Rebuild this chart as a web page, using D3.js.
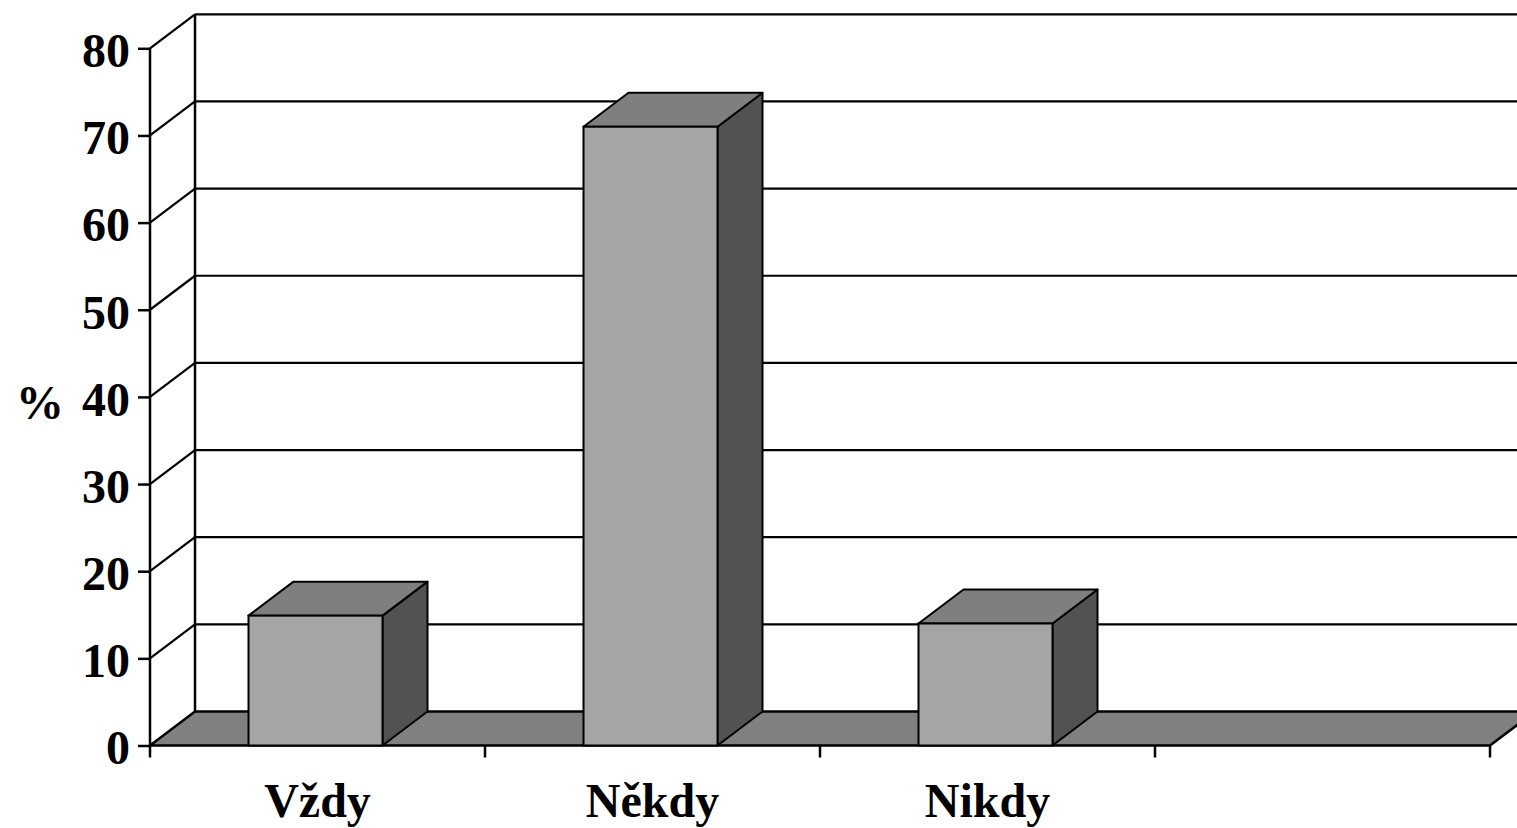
<!DOCTYPE html>
<html>
<head>
<meta charset="utf-8">
<script src="https://cdn.jsdelivr.net/npm/d3@7"></script>
<style>
  html, body { margin: 0; padding: 0; background: #fff; }
  svg { display: block; }
  text { font-family: "Liberation Serif", "Times New Roman", serif; font-weight: bold; fill: #000; }
</style>
</head>
<body>
<svg id="chart" width="1517" height="828"></svg>
<script>
// Share of answers (%)
const categories = ["Vždy", "Někdy", "Nikdy", ""];
const values = [14.9, 71.0, 14.0];
const yTicks = [0, 10, 20, 30, 40, 50, 60, 70, 80];
const yLabel = "%";

const svg = d3.select("#chart");

// 3D projection: depth offset of the back wall relative to the front plane
const DX = 45, DY = -34;

const x = d3.scaleBand().domain(categories).range([150, 1490]).paddingInner(0).paddingOuter(0);
const y = d3.scaleLinear().domain([0, 80]).range([745.5, 48.3]);

const barW = x.bandwidth() * 0.4;
const barOffset = (x.bandwidth() - barW) / 2 - 2;

const frontLeft = x.range()[0], frontRight = x.range()[1];
const backLeft = frontLeft + DX, backRight = frontRight + DX;

const pts = arr => arr.map(p => p.join(",")).join(" ");

// Back wall gridlines
svg.append("g").selectAll("line").data(yTicks.filter(t => t > 0)).join("line")
  .attr("x1", backLeft).attr("x2", backRight)
  .attr("y1", d => y(d) + DY).attr("y2", d => y(d) + DY)
  .attr("stroke", "#000").attr("stroke-width", 2.2);

// Back wall left edge
svg.append("line")
  .attr("x1", backLeft).attr("x2", backLeft)
  .attr("y1", y(80) + DY).attr("y2", y(0) + DY)
  .attr("stroke", "#000").attr("stroke-width", 2.5);

// Side wall gridlines (diagonals from the value axis to the back wall)
svg.append("g").selectAll("line").data(yTicks.filter(t => t > 0)).join("line")
  .attr("x1", frontLeft).attr("x2", backLeft)
  .attr("y1", d => y(d)).attr("y2", d => y(d) + DY)
  .attr("stroke", "#000").attr("stroke-width", 2.2);

// Floor
svg.append("polygon")
  .attr("points", pts([[frontLeft, y(0)], [frontRight, y(0)], [backRight, y(0) + DY], [backLeft, y(0) + DY]]))
  .attr("fill", "#808080").attr("stroke", "#000").attr("stroke-width", 2.5)
  .attr("stroke-linejoin", "miter");

// Bars: front, top and side faces
const bars = svg.append("g").selectAll("g").data(values).join("g");
bars.each(function (v, i) {
  const g = d3.select(this);
  const x0 = x(categories[i]) + barOffset, x1 = x0 + barW;
  const yb = y(0), yt = y(v);
  g.append("polygon")
    .attr("points", pts([[x1, yb], [x1 + DX, yb + DY], [x1 + DX, yt + DY], [x1, yt]]))
    .attr("fill", "#525252").attr("stroke", "#000").attr("stroke-width", 2).attr("stroke-linejoin", "round");
  g.append("polygon")
    .attr("points", pts([[x0, yt], [x1, yt], [x1 + DX, yt + DY], [x0 + DX, yt + DY]]))
    .attr("fill", "#7f7f7f").attr("stroke", "#000").attr("stroke-width", 2).attr("stroke-linejoin", "round");
  g.append("rect")
    .attr("x", x0).attr("y", yt).attr("width", barW).attr("height", yb - yt)
    .attr("fill", "#a5a5a5").attr("stroke", "#000").attr("stroke-width", 2);
});

// Value axis
const yAxis = svg.append("g").attr("transform", `translate(${frontLeft},0)`)
  .call(d3.axisLeft(y).tickValues(yTicks).tickSize(12).tickPadding(8).tickFormat(d3.format("d")));
yAxis.select(".domain").attr("stroke", "#000").attr("stroke-width", 2.5).attr("d", `M0,${y(80)}V${y(0)}`);
yAxis.selectAll(".tick line").attr("stroke", "#000").attr("stroke-width", 2.5);
yAxis.selectAll(".tick text")
  .attr("font-size", 48).attr("font-family", "Liberation Serif, serif").attr("font-weight", "bold")
  .attr("dy", "0.38em");

// Category axis
const xAxis = svg.append("g").attr("transform", `translate(0,${y(0)})`)
  .call(d3.axisBottom(x).tickSize(0).tickPadding(71));
xAxis.select(".domain").remove();
xAxis.selectAll(".tick text")
  .attr("font-size", 48).attr("font-family", "Liberation Serif, serif").attr("font-weight", "bold")
  .attr("dy", "0");
// Category boundary ticks
const bounds = categories.map(c => x(c)).concat([frontRight]);
svg.append("g").selectAll("line").data(bounds).join("line")
  .attr("x1", d => d).attr("x2", d => d)
  .attr("y1", y(0)).attr("y2", y(0) + 12)
  .attr("stroke", "#000").attr("stroke-width", 2.5);

// Axis title
svg.append("text")
  .attr("x", 40).attr("y", y(40) + 4)
  .attr("text-anchor", "middle").attr("dy", "0.38em")
  .attr("font-size", 48)
  .text(yLabel);
</script>
</body>
</html>
